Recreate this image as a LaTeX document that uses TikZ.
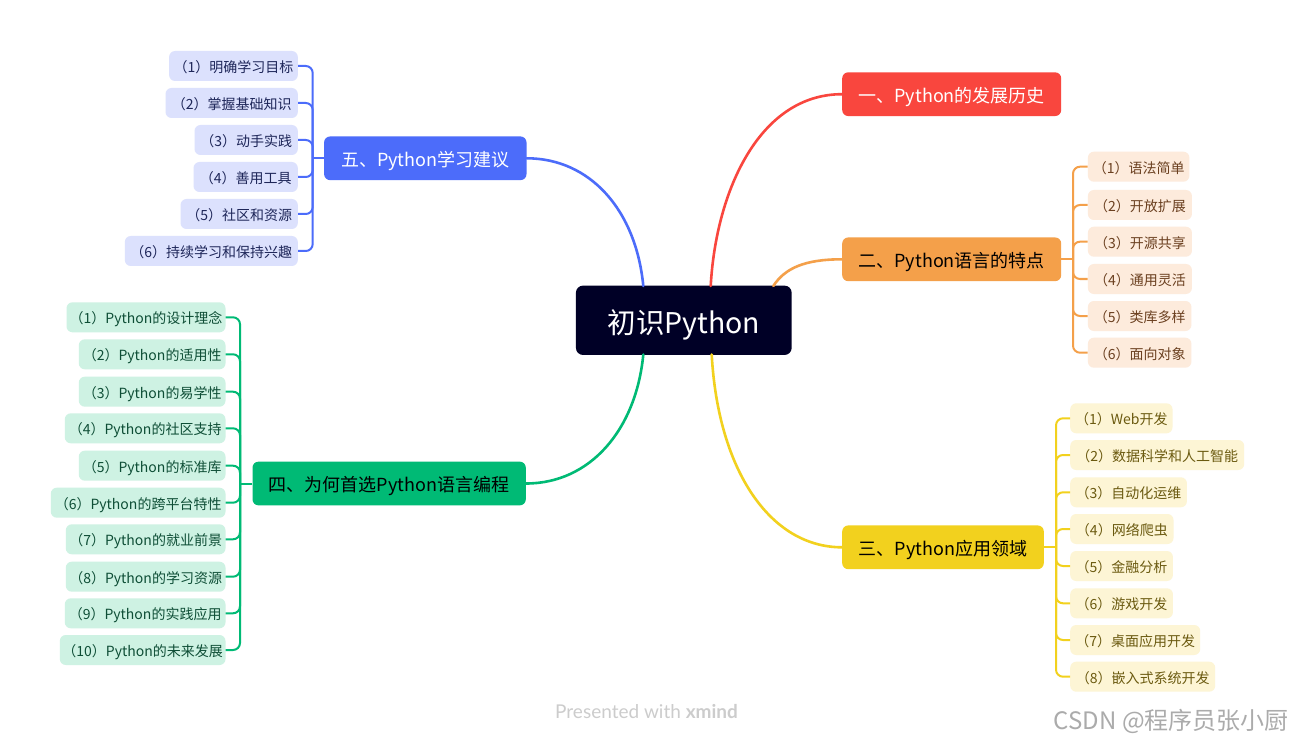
\documentclass[tikz,border=0pt]{standalone}
\usepackage{fontspec}
\setmainfont{Noto Sans CJK SC}
\newfontfamily\wmfont{Lato}
\definecolor{cnavy}{RGB}{0,0,38}
\definecolor{cred}{RGB}{249,70,62}
\definecolor{corange}{RGB}{244,160,74}
\definecolor{cyellow}{RGB}{242,209,30}
\definecolor{cgreen}{RGB}{0,186,117}
\definecolor{cblue}{RGB}{76,108,250}
\definecolor{lblue}{RGB}{220,225,253}
\definecolor{lgreen}{RGB}{206,242,227}
\definecolor{lorange}{RGB}{253,235,220}
\definecolor{lyellow}{RGB}{253,245,213}
\definecolor{tblue}{RGB}{30,38,89}
\definecolor{tgreen}{RGB}{14,78,54}
\definecolor{torange}{RGB}{107,64,32}
\definecolor{tyellow}{RGB}{107,90,16}
\tikzset{
  rootbox/.style={rounded corners=7pt, inner sep=0pt, minimum width=215.7pt, minimum height=69.3pt, fill=cnavy, text=white, font=\fontsize{28.5}{28.5}\selectfont, text height=25.5pt, text depth=0pt},
  branchbox/.style={rounded corners=6pt, inner sep=0pt, minimum height=43.7pt, font=\fontsize{18}{18}\selectfont, text height=16.5pt, text depth=0pt},
  childbox/.style={rounded corners=6pt, inner sep=0pt, minimum height=30pt, font=\fontsize{14}{14}\selectfont, text height=12.8pt, text depth=0pt},
  mainline/.style={line width=2.6pt, line cap=round},
  subline/.style={line width=2pt, rounded corners=7pt},
}
\begin{document}
\begin{tikzpicture}[x=1pt,y=-1pt]
\useasboundingbox[fill=white] (0,0) rectangle (1295,743);

% root
\node[rootbox] (root) at (683.8,320.3) {初识Python};

% branches
\node[branchbox, fill=cred, text=white, minimum width=219pt, anchor=west] (b1) at (842,94.2) {一、Python的发展历史};
\node[branchbox, fill=corange, text=black, minimum width=219pt, anchor=west] (b2) at (842,259.3) {二、Python语言的特点};
\node[branchbox, fill=cyellow, text=black, minimum width=201.6pt, anchor=west] (b3) at (842,547.3) {三、Python应用领域};
\node[branchbox, fill=cgreen, text=black, minimum width=273.3pt, anchor=east] (b4) at (526,483.5) {四、为何首选Python语言编程};
\node[branchbox, fill=cblue, text=white, minimum width=202.4pt, anchor=east] (b5) at (526.7,158.3) {五、Python学习建议};

% main connectors
\coordinate (r1) at (710.7,286);
\coordinate (r2) at (773.3,286);
\coordinate (r3) at (711.7,354.5);
\coordinate (r4) at (643.3,354.5);
\coordinate (r5) at (643.3,286);
\draw[mainline, cred] (r1) .. controls (716,190) and (760,94.2) .. (b1.west);
\draw[mainline, corange] (r2) .. controls (785,268) and (805,259.3) .. (b2.west);
\draw[mainline, cyellow] (r3) .. controls (718,470) and (770,547.3) .. (b3.west);
\draw[mainline, cgreen] (r4) .. controls (636,430) and (590,483.5) .. (b4.east);
\draw[mainline, cblue] (r5) .. controls (636,210) and (590,158.3) .. (b5.east);

% branch 5 children
\coordinate (t5) at (312.7,158.3);
\draw[subline, cblue] (b5.west) -- (t5);
\foreach \i/\t/\y/\w in {1/（1）明确学习目标/66/128.7, 2/（2）掌握基础知识/103/132.3, 3/（3）动手实践/140/103.3, 4/（4）善用工具/177/104.3, 5/（5）社区和资源/214/117.3, 6/（6）持续学习和保持兴趣/251/173}{
  \node[childbox, fill=lblue, text=tblue, minimum width=\w pt, anchor=east] (b5c\i) at (298,\y) {\t};
  \draw[subline, cblue] (t5) |- (b5c\i.east);
}

% branch 4 children
\coordinate (t4) at (240,483.5);
\draw[subline, cgreen] (b4.west) -- (t4);
\foreach \i/\t/\y/\w in {1/（1）Python的设计理念/317.3/159, 2/（2）Python的适用性/354.3/146.7, 3/（3）Python的易学性/391.7/146.7, 4/（4）Python的社区支持/428.3/160.7, 5/（5）Python的标准库/465.7/146.7, 6/（6）Python的跨平台特性/502.7/174.7, 7/（7）Python的就业前景/539.3/159.7, 8/（8）Python的学习资源/576.7/159.7, 9/（9）Python的实践应用/613.3/160.7, 10/（10）Python的未来发展/650/165.7}{
  \node[childbox, fill=lgreen, text=tgreen, minimum width=\w pt, anchor=east] (b4c\i) at (225.7,\y) {\t};
  \draw[subline, cgreen] (t4) |- (b4c\i.east);
}

% branch 2 children
\coordinate (t2) at (1073,259.3);
\draw[subline, corange] (b2.east) -- (t2);
\foreach \i/\t/\y/\w in {1/（1）语法简单/166.7/101.5, 2/（2）开放扩展/205/104, 3/（3）开源共享/241.7/104, 4/（4）通用灵活/279/104, 5/（5）类库多样/316/103.5, 6/（6）面向对象/352.7/103.5}{
  \node[childbox, fill=lorange, text=torange, minimum width=\w pt, anchor=west] (b2c\i) at (1087.7,\y) {\t};
  \draw[subline, corange] (t2) |- (b2c\i.west);
}

% branch 3 children
\coordinate (t3) at (1056,547.3);
\draw[subline, cyellow] (b3.east) -- (t3);
\foreach \i/\t/\y/\w in {1/（1）Web开发/418.3/102.3, 2/（2）数据科学和人工智能/455/174, 3/（3）自动化运维/492.3/116.7, 4/（4）网络爬虫/529/103.3, 5/（5）金融分析/566/102.7, 6/（6）游戏开发/603.3/102.7, 7/（7）桌面应用开发/640/130, 8/（8）嵌入式系统开发/676.7/145}{
  \node[childbox, fill=lyellow, text=tyellow, minimum width=\w pt, anchor=west] (b3c\i) at (1070,\y) {\t};
  \draw[subline, cyellow] (t3) |- (b3c\i.west);
}

% watermarks
\node[anchor=west, inner sep=0pt, text=black!20, font=\wmfont\fontsize{19}{19}\selectfont] (wm) at (555,712) {Presented with \textbf{xmind}};
\node[anchor=east, inner sep=0pt, text=black!33, font=\fontsize{24}{24}\selectfont] (csdn) at (1289,721) {CSDN @程序员张小厨};
\end{tikzpicture}
\end{document}
